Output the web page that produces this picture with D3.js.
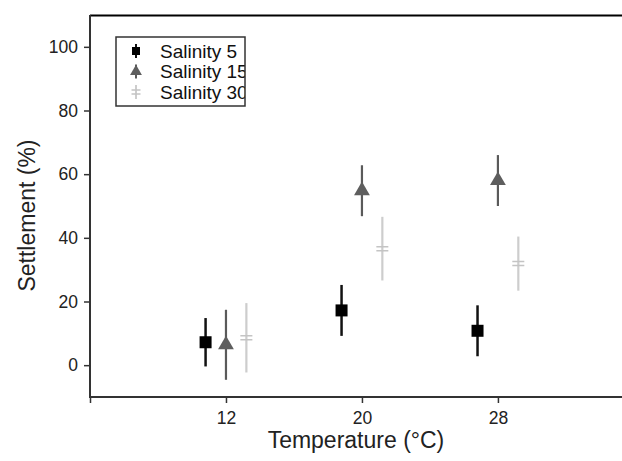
<!DOCTYPE html>
<html>
<head>
<meta charset="utf-8">
<script src="https://cdn.jsdelivr.net/npm/d3@7"></script>
<style>
  body { margin: 0; background: #fff; }
  text { font-family: "Liberation Sans", Arial, sans-serif; }
</style>
</head>
<body>
<svg id="chart" width="622" height="461"></svg>
<script>
// temperatures (x categories)
var temps = [12, 20, 28];
var yTicks = [0, 20, 40, 60, 80, 100];

// means and error half-widths
var sal5 = [7.2, 17.2, 10.8];
var sal5Err = [7.6, 8.0, 8.0];
var sal15 = [6.4, 54.8, 58.0];
var sal15Err = [11.0, 8.0, 8.0];
var sal30 = [8.6, 36.6, 31.9];
var sal30Err = [10.9, 10.0, 8.5];

var seriesNames = ['Salinity 5', 'Salinity 15', 'Salinity 30'];

var series = [
  {name: seriesNames[0], mean: sal5, err: sal5Err, shift: -1.2, color: '#000', bar: '#111', shape: 'square'},
  {name: seriesNames[1], mean: sal15, err: sal15Err, shift: 0, color: '#5e5e5e', bar: '#5a5a5a', shape: 'triangle'},
  {name: seriesNames[2], mean: sal30, err: sal30Err, shift: 1.2, color: '#c4c4c4', bar: '#cdcdcd', shape: 'plus'}
];

var svg = d3.select('#chart');
var plotL = 90, plotT = 15, plotR = 622, plotB = 397;

var x = d3.scaleLinear().domain([4, 35.3]).range([plotL, plotR]);
var y = d3.scaleLinear().domain([-10, 110]).range([plotB, plotT]);

// frame top line
svg.append('line')
  .attr('x1', plotL).attr('x2', plotR)
  .attr('y1', plotT + 0.5).attr('y2', plotT + 0.5)
  .attr('stroke', '#000').attr('stroke-width', 2);

// axes
var yAxis = svg.append('g')
  .attr('transform', 'translate(' + plotL + ',0)')
  .call(d3.axisLeft(y).tickValues(yTicks).tickSize(6).tickPadding(6));

var xAxis = svg.append('g')
  .attr('transform', 'translate(0,' + plotB + ')')
  .call(d3.axisBottom(x).tickValues([4].concat(temps)).tickSize(6).tickPadding(9)
    .tickFormat(function(d) { return d === 4 ? '' : d; }));

[yAxis, xAxis].forEach(function(g) {
  g.attr('font-size', 17.5).attr('font-family', '"Liberation Sans", Arial, sans-serif');
  g.select('.domain').attr('stroke', '#333').attr('stroke-width', 2);
  g.selectAll('.tick line').attr('stroke', '#333').attr('stroke-width', 1.5);
  g.selectAll('.tick text').attr('fill', '#222');
});
yAxis.select('.domain').attr('d', 'M0,' + plotT + 'V' + (plotB + 1));
xAxis.select('.domain').attr('d', 'M' + plotL + ',0H' + plotR);

// axis titles
svg.append('text')
  .attr('x', x(20) - 6).attr('y', 448)
  .attr('text-anchor', 'middle')
  .style('font-size', '23px').attr('fill', '#222')
  .text('Temperature (°C)');

svg.append('text')
  .attr('transform', 'translate(35,' + y(47) + ') rotate(-90)')
  .attr('text-anchor', 'middle')
  .style('font-size', '23px').attr('fill', '#222')
  .text('Settlement (%)');

function drawMarker(g, shape, color, cx, cy, s) {
  if (shape === 'square') {
    g.append('rect')
      .attr('x', cx - s / 2).attr('y', cy - s / 2)
      .attr('width', s).attr('height', s)
      .attr('fill', color);
  } else if (shape === 'triangle') {
    g.append('path')
      .attr('d', d3.symbol().type(d3.symbolTriangle).size(s * s * 0.75)())
      .attr('transform', 'translate(' + cx + ',' + cy + ')')
      .attr('fill', color);
  } else {
    var h = s / 2;
    g.append('path')
      .attr('d', 'M' + (cx - h) + ',' + (cy - 2) + 'H' + (cx + h) +
                 'M' + (cx - h) + ',' + (cy + 2) + 'H' + (cx + h))
      .attr('stroke', color).attr('stroke-width', 1.5).attr('fill', 'none');
  }
}

// error bars and points
series.forEach(function(s) {
  var g = svg.append('g');
  temps.forEach(function(t, i) {
    var cx = x(t + s.shift);
    g.append('line')
      .attr('x1', cx).attr('x2', cx)
      .attr('y1', y(s.mean[i] + s.err[i])).attr('y2', y(s.mean[i] - s.err[i]))
      .attr('stroke', s.bar).attr('stroke-width', s.shape === 'square' ? 2.5 : 2.2);
    drawMarker(g, s.shape, s.color, cx, y(s.mean[i]), 12);
  });
});

// legend (text is clipped at the box edge, as in the original)
svg.append('clipPath').attr('id', 'legclip')
  .append('rect').attr('x', 116).attr('y', 37).attr('width', 129).attr('height', 69);
var legend = svg.append('g');
legend.append('rect')
  .attr('x', 116).attr('y', 37).attr('width', 129).attr('height', 69)
  .attr('fill', '#fff');
var rowY = [51, 71.5, 92];
var legText = legend.append('g').attr('clip-path', 'url(#legclip)');
series.forEach(function(s, i) {
  var cy = rowY[i];
  legend.append('line')
    .attr('x1', 136).attr('x2', 136)
    .attr('y1', cy - 7).attr('y2', cy + 7)
    .attr('stroke', s.bar).attr('stroke-width', 2);
  drawMarker(legend, s.shape, s.color, 136, cy, s.shape === 'square' ? 8 : 9);
  legText.append('text')
    .attr('x', 160).attr('y', cy + 6.5)
    .style('font-size', '19px').attr('fill', '#111')
    .text(s.name);
});
legend.append('rect')
  .attr('x', 116).attr('y', 37).attr('width', 129).attr('height', 69)
  .attr('fill', 'none').attr('stroke', '#333').attr('stroke-width', 1.5);
</script>
</body>
</html>
